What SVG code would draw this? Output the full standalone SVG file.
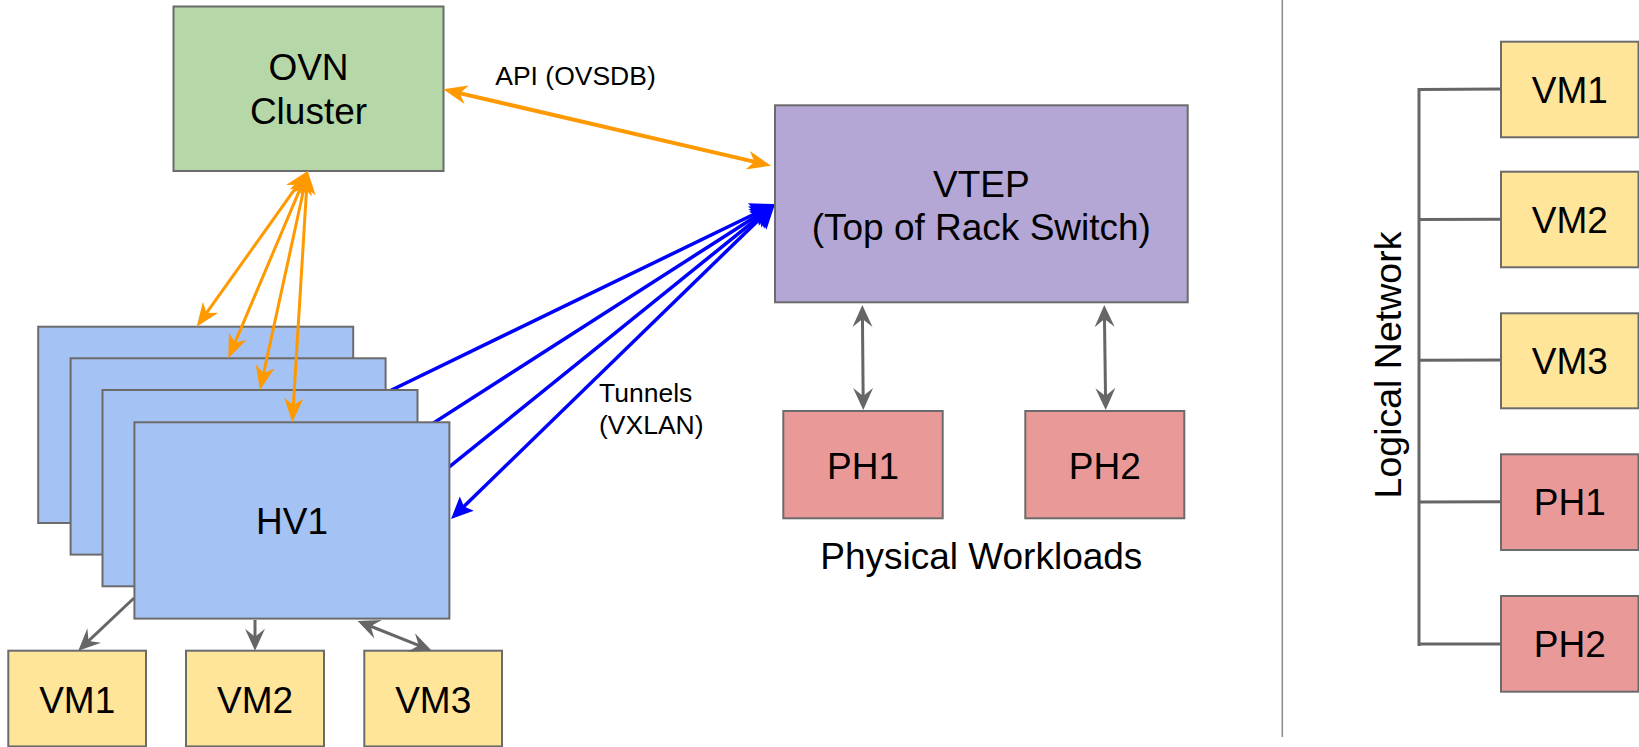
<svg xmlns="http://www.w3.org/2000/svg" width="1639" height="747" viewBox="0 0 1639 747">
<style>
  .box { stroke: #6b6b6b; stroke-width: 2; }
  .ovn { fill: #b6d7a8; }
  .vtep { fill: #b4a7d6; }
  .hv { fill: #a4c2f4; }
  .vm { fill: #ffe599; }
  .ph { fill: #ea9999; }
  text { font-family: "Liberation Sans", Arial, sans-serif; fill: #000; }
  .big { font-size: 37px; text-anchor: middle; }
  .small { font-size: 26.5px; }
  .orange { stroke: #ff9900; fill: none; }
  .blue { stroke: #0000ff; stroke-width: 3.5; fill: none; }
  .gray { stroke: #666666; stroke-width: 3; fill: none; }
</style>
<defs>
  <marker id="hO" markerUnits="userSpaceOnUse" viewBox="-16 -11 28 22" refX="0" refY="0" markerWidth="28" markerHeight="22" orient="auto-start-reverse">
    <path d="M10,0 L-14,-9.5 L-7,0 L-14,9.5 Z" fill="#ff9900"/>
  </marker>
  <marker id="hB" markerUnits="userSpaceOnUse" viewBox="-16 -14 28 28" refX="0" refY="0" markerWidth="28" markerHeight="28" orient="auto-start-reverse">
    <path d="M10,0 L-14,-12.5 L-10,0 L-14,12.5 Z" fill="#0000ff"/>
  </marker>
  <marker id="hBs" markerUnits="userSpaceOnUse" viewBox="-14 -12 26 24" refX="0" refY="0" markerWidth="26" markerHeight="24" orient="auto-start-reverse">
    <path d="M10,0 L-12,-10 L-8,0 L-12,10 Z" fill="#0000ff"/>
  </marker>
  <marker id="hG" markerUnits="userSpaceOnUse" viewBox="-16 -12 26 24" refX="0" refY="0" markerWidth="26" markerHeight="24" orient="auto-start-reverse">
    <path d="M8,0 L-14,-10 L-6,0 L-14,10 Z" fill="#666666"/>
  </marker>
</defs>

<rect width="1639" height="747" fill="#ffffff"/>

<!-- tunnel connectors (behind hypervisors) -->
<g id="tunnels">
  <line class="blue" x1="353" y1="408.7" x2="766" y2="208.4" marker-end="url(#hB)"/>
  <line class="blue" x1="385.7" y1="453.6" x2="766.6" y2="209.4" marker-end="url(#hB)"/>
  <line class="blue" x1="417.3" y1="492.7" x2="767.2" y2="210.3" marker-end="url(#hB)"/>
  <line class="blue" x1="458.2" y1="512" x2="767.8" y2="211" marker-start="url(#hBs)" marker-end="url(#hB)"/>
</g>

<g id="ovn-cluster">
  <rect class="box ovn" x="173.5" y="6.5" width="270" height="164.5"/>
  <text class="big" x="308.5" y="80">OVN</text>
  <text class="big" x="308.5" y="124">Cluster</text>
</g>

<g id="vtep">
  <rect class="box vtep" x="775" y="105.3" width="412.7" height="197"/>
  <text class="big" x="981.3" y="197">VTEP</text>
  <text class="big" x="981.3" y="240.3">(Top of Rack Switch)</text>
</g>

<g id="ph1">
  <rect class="box ph" x="783.3" y="411" width="159.4" height="107.3"/>
  <text class="big" x="863" y="479">PH1</text>
</g>
<g id="ph2">
  <rect class="box ph" x="1025.3" y="411" width="159" height="107.3"/>
  <text class="big" x="1104.8" y="479">PH2</text>
</g>
<text id="physical-workloads" class="big" x="981.3" y="569">Physical Workloads</text>

<g id="hv4"><rect class="box hv" x="38.2" y="326.7" width="315" height="196.3"/></g>
<g id="hv3"><rect class="box hv" x="70.6" y="358.3" width="315" height="196.3"/></g>
<g id="hv2"><rect class="box hv" x="102.5" y="390" width="315" height="196.3"/></g>
<g id="hv1">
  <rect class="box hv" x="134.4" y="422.3" width="315" height="196.3"/>
  <text class="big" x="292" y="534">HV1</text>
</g>

<g id="vm1">
  <rect class="box vm" x="8.3" y="650.7" width="137.7" height="95.7"/>
  <text class="big" x="77.2" y="712.5">VM1</text>
</g>
<g id="vm2">
  <rect class="box vm" x="186" y="650.7" width="138" height="95.7"/>
  <text class="big" x="255" y="712.5">VM2</text>
</g>
<g id="vm3">
  <rect class="box vm" x="364.3" y="650.7" width="137.7" height="95.7"/>
  <text class="big" x="433.2" y="712.5">VM3</text>
</g>

<!-- connectors -->
<g id="connectors">
  <line class="orange" stroke-width="4" x1="453" y1="91.6" x2="761.3" y2="163.4" marker-start="url(#hO)" marker-end="url(#hO)"/>
  <line class="orange" stroke-width="3" x1="301.9" y1="179.1" x2="202.5" y2="318.6" marker-start="url(#hO)" marker-end="url(#hO)"/>
  <line class="orange" stroke-width="3" x1="303.8" y1="180.2" x2="232.2" y2="349.1" marker-start="url(#hO)" marker-end="url(#hO)"/>
  <line class="orange" stroke-width="3" x1="305.6" y1="180.8" x2="262.1" y2="380.2" marker-start="url(#hO)" marker-end="url(#hO)"/>
  <line class="orange" stroke-width="3" x1="307.1" y1="181" x2="292.9" y2="412.3" marker-start="url(#hO)" marker-end="url(#hO)"/>
  <line class="gray" x1="134" y1="598" x2="84.1" y2="645.2" marker-end="url(#hG)"/>
  <line class="gray" x1="255" y1="620" x2="255" y2="642.7" marker-end="url(#hG)"/>
  <line class="gray" x1="365.1" y1="624" x2="424.3" y2="647.7" marker-start="url(#hG)" marker-end="url(#hG)"/>
  <line class="gray" x1="862.4" y1="313" x2="863.2" y2="402" marker-start="url(#hG)" marker-end="url(#hG)"/>
  <line class="gray" x1="1104.4" y1="313" x2="1105.6" y2="402" marker-start="url(#hG)" marker-end="url(#hG)"/>
  <text class="small" x="575.5" y="85" text-anchor="middle">API (OVSDB)</text>
  <text class="small" x="599" y="402.3">Tunnels</text>
  <text class="small" x="599" y="433.5">(VXLAN)</text>
</g>

<!-- divider -->
<line id="divider" x1="1282.3" y1="0" x2="1282.3" y2="737" stroke="#8c8c8c" stroke-width="1.5"/>

<!-- logical network -->
<g id="logical-bus">
  <line class="gray" stroke-width="3.5" x1="1419" y1="88" x2="1419" y2="646"/>
  <line class="gray" x1="1419" y1="89.5" x2="1501" y2="89"/>
  <line class="gray" x1="1419" y1="219.5" x2="1501" y2="219.3"/>
  <line class="gray" x1="1419" y1="360.2" x2="1501" y2="360"/>
  <line class="gray" x1="1419" y1="501.9" x2="1501" y2="501.7"/>
  <line class="gray" x1="1419" y1="644" x2="1501" y2="644"/>
  <text class="big" style="font-size:37.5px" transform="translate(1401,365) rotate(-90)">Logical Network</text>
</g>
<g id="lvm1">
  <rect class="box vm" x="1501" y="41.7" width="137.5" height="95.6"/>
  <text class="big" x="1569.8" y="102.7">VM1</text>
</g>
<g id="lvm2">
  <rect class="box vm" x="1501" y="171.7" width="137.5" height="95.6"/>
  <text class="big" x="1569.8" y="232.7">VM2</text>
</g>
<g id="lvm3">
  <rect class="box vm" x="1501" y="313.3" width="137.5" height="95"/>
  <text class="big" x="1569.8" y="374">VM3</text>
</g>
<g id="lph1">
  <rect class="box ph" x="1501" y="454.3" width="137.5" height="95.7"/>
  <text class="big" x="1569.8" y="515.4">PH1</text>
</g>
<g id="lph2">
  <rect class="box ph" x="1501" y="596" width="137.5" height="95.7"/>
  <text class="big" x="1569.8" y="657.1">PH2</text>
</g>
</svg>
